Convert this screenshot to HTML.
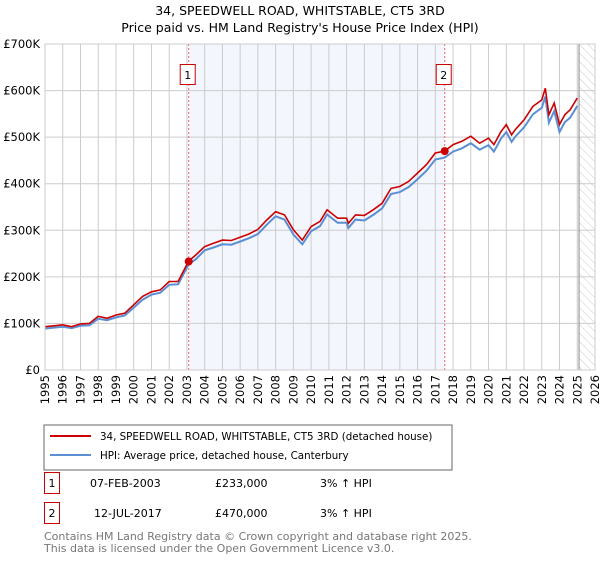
<!DOCTYPE html>
<html><head><meta charset="utf-8"><style>
body{margin:0;background:#fff;font-family:"Liberation Sans","DejaVu Sans",sans-serif;}
svg text{font-family:"DejaVu Sans","Liberation Sans",sans-serif;}
</style></head><body>
<svg id="c" width="600" height="560" viewBox="0 0 600 560" xmlns="http://www.w3.org/2000/svg">
<defs><pattern id="hatch" width="6" height="6" patternUnits="userSpaceOnUse" patternTransform="rotate(-45)"><line x1="0" y1="0" x2="0" y2="6" stroke="#ccc" stroke-width="1"/></pattern></defs>
<text x="300" y="15" text-anchor="middle" font-size="12.5" fill="#000">34, SPEEDWELL ROAD, WHITSTABLE, CT5 3RD</text>
<text x="300" y="32" text-anchor="middle" font-size="12.5" fill="#000">Price paid vs. HM Land Registry's House Price Index (HPI)</text>
<g id="plot"></g>
<rect x="44" y="425" width="408" height="45" fill="#fff" stroke="#666"/>
<line x1="50" y1="436" x2="91" y2="436" stroke="#cc0000" stroke-width="2"/>
<text x="100" y="440" font-size="10.3">34, SPEEDWELL ROAD, WHITSTABLE, CT5 3RD (detached house)</text>
<line x1="50" y1="455" x2="91" y2="455" stroke="#5b8fd4" stroke-width="2"/>
<text x="100" y="459" font-size="10.3">HPI: Average price, detached house, Canterbury</text>
<g>
<rect x="44.5" y="472.5" width="15" height="21" fill="#fff" stroke="#cc0000"/>
<text x="52" y="487" text-anchor="middle" font-size="11">1</text>
<text x="90" y="487" font-size="11">07-FEB-2003</text>
<text x="215" y="487" font-size="11">£233,000</text>
<text x="320" y="487" font-size="11">3% ↑ HPI</text></g>
<g>
<rect x="44.5" y="502.5" width="15" height="21" fill="#fff" stroke="#cc0000"/>
<text x="52" y="517" text-anchor="middle" font-size="11">2</text>
<text x="94" y="517" font-size="11">12-JUL-2017</text>
<text x="215" y="517" font-size="11">£470,000</text>
<text x="320" y="517" font-size="11">3% ↑ HPI</text></g>
<text x="44" y="540" font-size="11" fill="#777">Contains HM Land Registry data © Crown copyright and database right 2025.</text>
<text x="44" y="552" font-size="11" fill="#777">This data is licensed under the Open Government Licence v3.0.</text>
</svg>
<script>
const years=[1995,1995.5,1996,1996.5,1997,1997.5,1998,1998.5,1999,1999.5,2000,2000.5,2001,2001.5,2002,2002.5,2003.1,2003.5,2004,2004.5,2005,2005.5,2006,2006.5,2007,2007.5,2008,2008.5,2009,2009.5,2010,2010.5,2010.9,2011.5,2012,2012.1,2012.5,2013,2013.5,2014,2014.5,2015,2015.5,2016,2016.5,2017,2017.53,2018,2018.5,2019,2019.5,2020,2020.3,2020.7,2021,2021.3,2021.5,2022,2022.5,2023,2023.2,2023.4,2023.7,2024,2024.3,2024.6,2025];
const priceK=[93,95,97,93,99,100,115,111,118,122,140,158,168,172,190,190,234,247,265,272,279,278,285,292,302,322,340,333,301,279,308,319,344,326,326,315,333,332,344,358,390,394,405,423,441,466,470,484,491,502,487,498,484,512,527,505,516,537,566,580,605,548,573,527,548,559,584];
const hpiK=[89,91,93,90,95,96,110,107,113,117,134,151,162,166,183,184,227,238,257,263,270,269,276,283,292,312,330,323,291,270,298,309,334,316,316,305,323,321,333,347,378,382,393,410,428,452,456,469,476,487,473,483,469,497,511,490,501,521,549,563,587,531,556,511,532,542,567];
const saleYears=[2003.1,2017.53];
const saleK=[233,470];
const yTicks=[0,100,200,300,400,500,600,700];
const yLabels=["£0","£100K","£200K","£300K","£400K","£500K","£600K","£700K"];
const xTicks=[1995,1996,1997,1998,1999,2000,2001,2002,2003,2004,2005,2006,2007,2008,2009,2010,2011,2012,2013,2014,2015,2016,2017,2018,2019,2020,2021,2022,2023,2024,2025,2026];
const X0=45,X1=595,Y0=370,Y1=44;
const xs=y=>X0+(y-1995)/31*(X1-X0);
const ys=v=>Y0-v/700*(Y0-Y1);
const g=document.getElementById('plot');const NS='http://www.w3.org/2000/svg';
function mk(t,a,p){const e=document.createElementNS(NS,t);for(const k in a)e.setAttribute(k,a[k]);(p||g).appendChild(e);return e;}
let e;
e=mk('rect',{x:xs(saleYears[0]),y:Y1,width:xs(saleYears[1])-xs(saleYears[0]),height:Y0-Y1,fill:'#f3f6fd'});


e=mk('rect',{x:xs(2025.1),y:Y1,width:X1-xs(2025.1),height:Y0-Y1,fill:'url(#hatch)'});


xTicks.forEach((t,i)=>{
 e=mk('line',{x1:xs(t),x2:xs(t),y1:Y1,y2:Y0,stroke:'#ccc'});
 
 
 e=mk('text',{x:0,y:0,'font-size':11.5,'text-anchor':'end',transform:`translate(${xs(t)+4},${Y0+5}) rotate(-90)`});
 e.textContent=t;
 
 
});
yTicks.forEach((t,i)=>{
 e=mk('line',{x1:X0,x2:X1,y1:ys(t),y2:ys(t),stroke:'#ccc'});
 
 
 e=mk('text',{x:X0-5,y:ys(t)+4,'font-size':11.5,'text-anchor':'end'});
 e.textContent=yLabels[i];
 
 
});
e=mk('line',{x1:xs(2025.1),x2:xs(2025.1),y1:Y1,y2:Y0,stroke:'#888'});


saleYears.forEach((s,i)=>{
 e=mk('line',{x1:xs(s),x2:xs(s),y1:Y1,y2:Y0,stroke:'#e66','stroke-dasharray':'2,2'});
 
 
});
const pts=a=>a.map((v,i)=>xs(years[i]).toFixed(1)+','+ys(v).toFixed(1)).join(' ');
e=mk('polyline',{points:pts(hpiK),fill:'none',stroke:'#5b8fd4','stroke-width':2});


e=mk('polyline',{points:pts(priceK),fill:'none',stroke:'#cc0000','stroke-width':1.6});


saleYears.forEach((s,i)=>{
 e=mk('circle',{cx:xs(s),cy:ys(saleK[i]),r:4,fill:'#cc0000'});
 
 
 e=mk('rect',{x:xs(s)-8.5,y:64.5,width:15,height:20,fill:'#fff',stroke:'#cc0000'});
 
 
 e=mk('text',{x:xs(s)-1,y:79,'font-size':11,'text-anchor':'middle'});
 e.textContent=String(i+1);
 
 
});
e=mk('rect',{x:X0,y:Y1,width:X1-X0,height:Y0-Y1,fill:'none',stroke:'#ccc'});


</script>
</body></html>
